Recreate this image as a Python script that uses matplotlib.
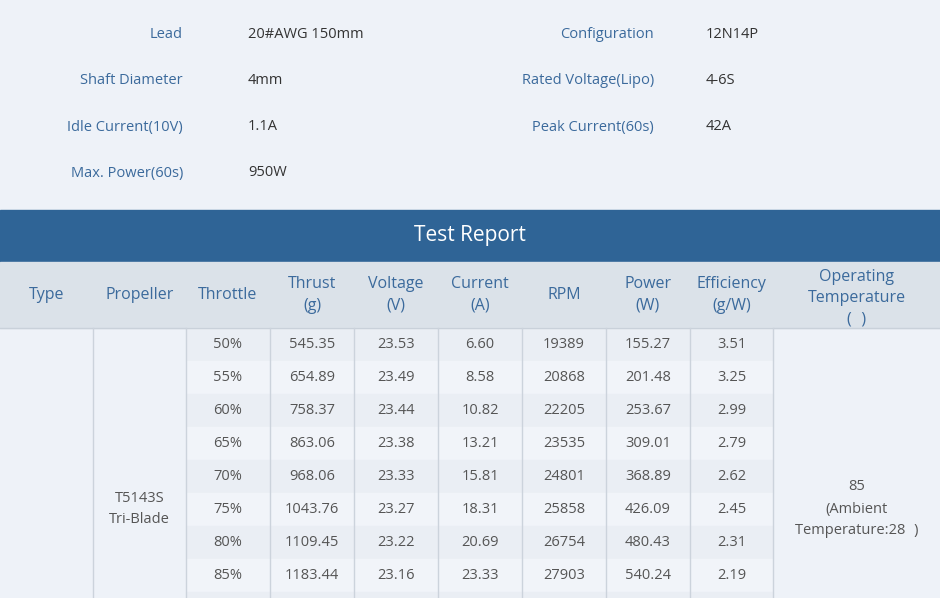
import matplotlib.pyplot as plt
from matplotlib.patches import Rectangle

plt.rcParams['font.family'] = 'Open Sans'

spec_left_labels = ['Lead', 'Shaft Diameter', 'Idle Current(10V)', 'Max. Power(60s)']
spec_left_values = ['20#AWG 150mm', '4mm', '1.1A', '950W']
spec_right_labels = ['Configuration', 'Rated Voltage(Lipo)', 'Peak Current(60s)']
spec_right_values = ['12N14P', '4-6S', '42A']

headers = ['Type', 'Propeller', 'Throttle', 'Thrust\n(g)', 'Voltage\n(V)', 'Current\n(A)',
           'RPM', 'Power\n(W)', 'Efficiency\n(g/W)', 'Operating\nTemperature\n(℃)']
throttle = ['50%', '55%', '60%', '65%', '70%', '75%', '80%', '85%']
thrust = [545.35, 654.89, 758.37, 863.06, 968.06, 1043.76, 1109.45, 1183.44]
voltage = [23.53, 23.49, 23.44, 23.38, 23.33, 23.27, 23.22, 23.16]
current = [6.60, 8.58, 10.82, 13.21, 15.81, 18.31, 20.69, 23.33]
rpm = [19389, 20868, 22205, 23535, 24801, 25858, 26754, 27903]
power = [155.27, 201.48, 253.67, 309.01, 368.89, 426.09, 480.43, 540.24]
efficiency = [3.51, 3.25, 2.99, 2.79, 2.62, 2.45, 2.31, 2.19]
propeller = 'T5143S\nTri-Blade'
temperature = '85'
ambient = '(Ambient\nTemperature:28℃)'

W, H = 940, 598
fig = plt.figure(figsize=(W / 100, H / 100), dpi=100)
ax = fig.add_axes([0, 0, 1, 1])
ax.set_xlim(0, W)
ax.set_ylim(H, 0)
ax.axis('off')

blue = '#3b6a9c'
grey = '#555555'
ax.add_patch(Rectangle((0, 0), W, H, color='#eef2f8', zorder=0))

# spec block
for i, (l, v) in enumerate(zip(spec_left_labels, spec_left_values)):
    y = 35 + 46 * i
    ax.text(183, y, l, ha='right', va='center', fontsize=10.5, color=blue)
    ax.text(248, y, v, ha='left', va='center', fontsize=10.5, color='#333333')
for i, (l, v) in enumerate(zip(spec_right_labels, spec_right_values)):
    y = 35 + 46 * i
    ax.text(654, y, l, ha='right', va='center', fontsize=10.5, color=blue)
    ax.text(706, y, v, ha='left', va='center', fontsize=10.5, color='#333333')

# title band
ax.add_patch(Rectangle((0, 210), W, 52, color='#2f6496', zorder=1))
ax.text(470, 236, 'Test Report', ha='center', va='center', fontsize=15, color='white')

# header band
ax.add_patch(Rectangle((0, 262), W, 66, color='#dbe2e9', zorder=1))
ax.plot([0, W], [328, 328], color='#c9d1da', lw=1, zorder=2)
edges = [0, 93, 186, 270, 354, 438, 522, 606, 690, 773, W]
centers = [(a + b) / 2 for a, b in zip(edges[:-1], edges[1:])]
for c, h in zip(centers, headers):
    y = 298 if h.count('\n') == 2 else 295
    ax.text(c, y, h, ha='center', va='center', fontsize=11.5, color=blue, linespacing=1.45)

# body rows
row_h = 33
cols = [throttle, [f'{v:.2f}' for v in thrust], [f'{v:.2f}' for v in voltage],
        [f'{v:.2f}' for v in current], [str(v) for v in rpm],
        [f'{v:.2f}' for v in power], [f'{v:.2f}' for v in efficiency]]
for r in range(len(throttle) + 1):
    y0 = 328 + r * row_h
    col = '#eaeef4' if r % 2 == 0 else '#f1f4f9'
    ax.add_patch(Rectangle((186, y0), 773 - 186, row_h, color=col, zorder=1))
    if r < len(throttle):
        for j, values in enumerate(cols):
            ax.text(centers[2 + j], y0 + row_h / 2, values[r], ha='center', va='center',
                    fontsize=10.5, color=grey)
for x in edges[1:-1]:
    ax.plot([x, x], [328, H], color='#ccd3dc', lw=1, zorder=2)

ax.text(centers[1], 509, propeller, ha='center', va='center', fontsize=10.5, color=grey, linespacing=1.5)
ax.text(centers[9], 487, temperature, ha='center', va='center', fontsize=10.5, color=grey)
ax.text(centers[9], 520, ambient, ha='center', va='center', fontsize=10.5, color=grey, linespacing=1.5)

fig.savefig('out.png', dpi=100)
